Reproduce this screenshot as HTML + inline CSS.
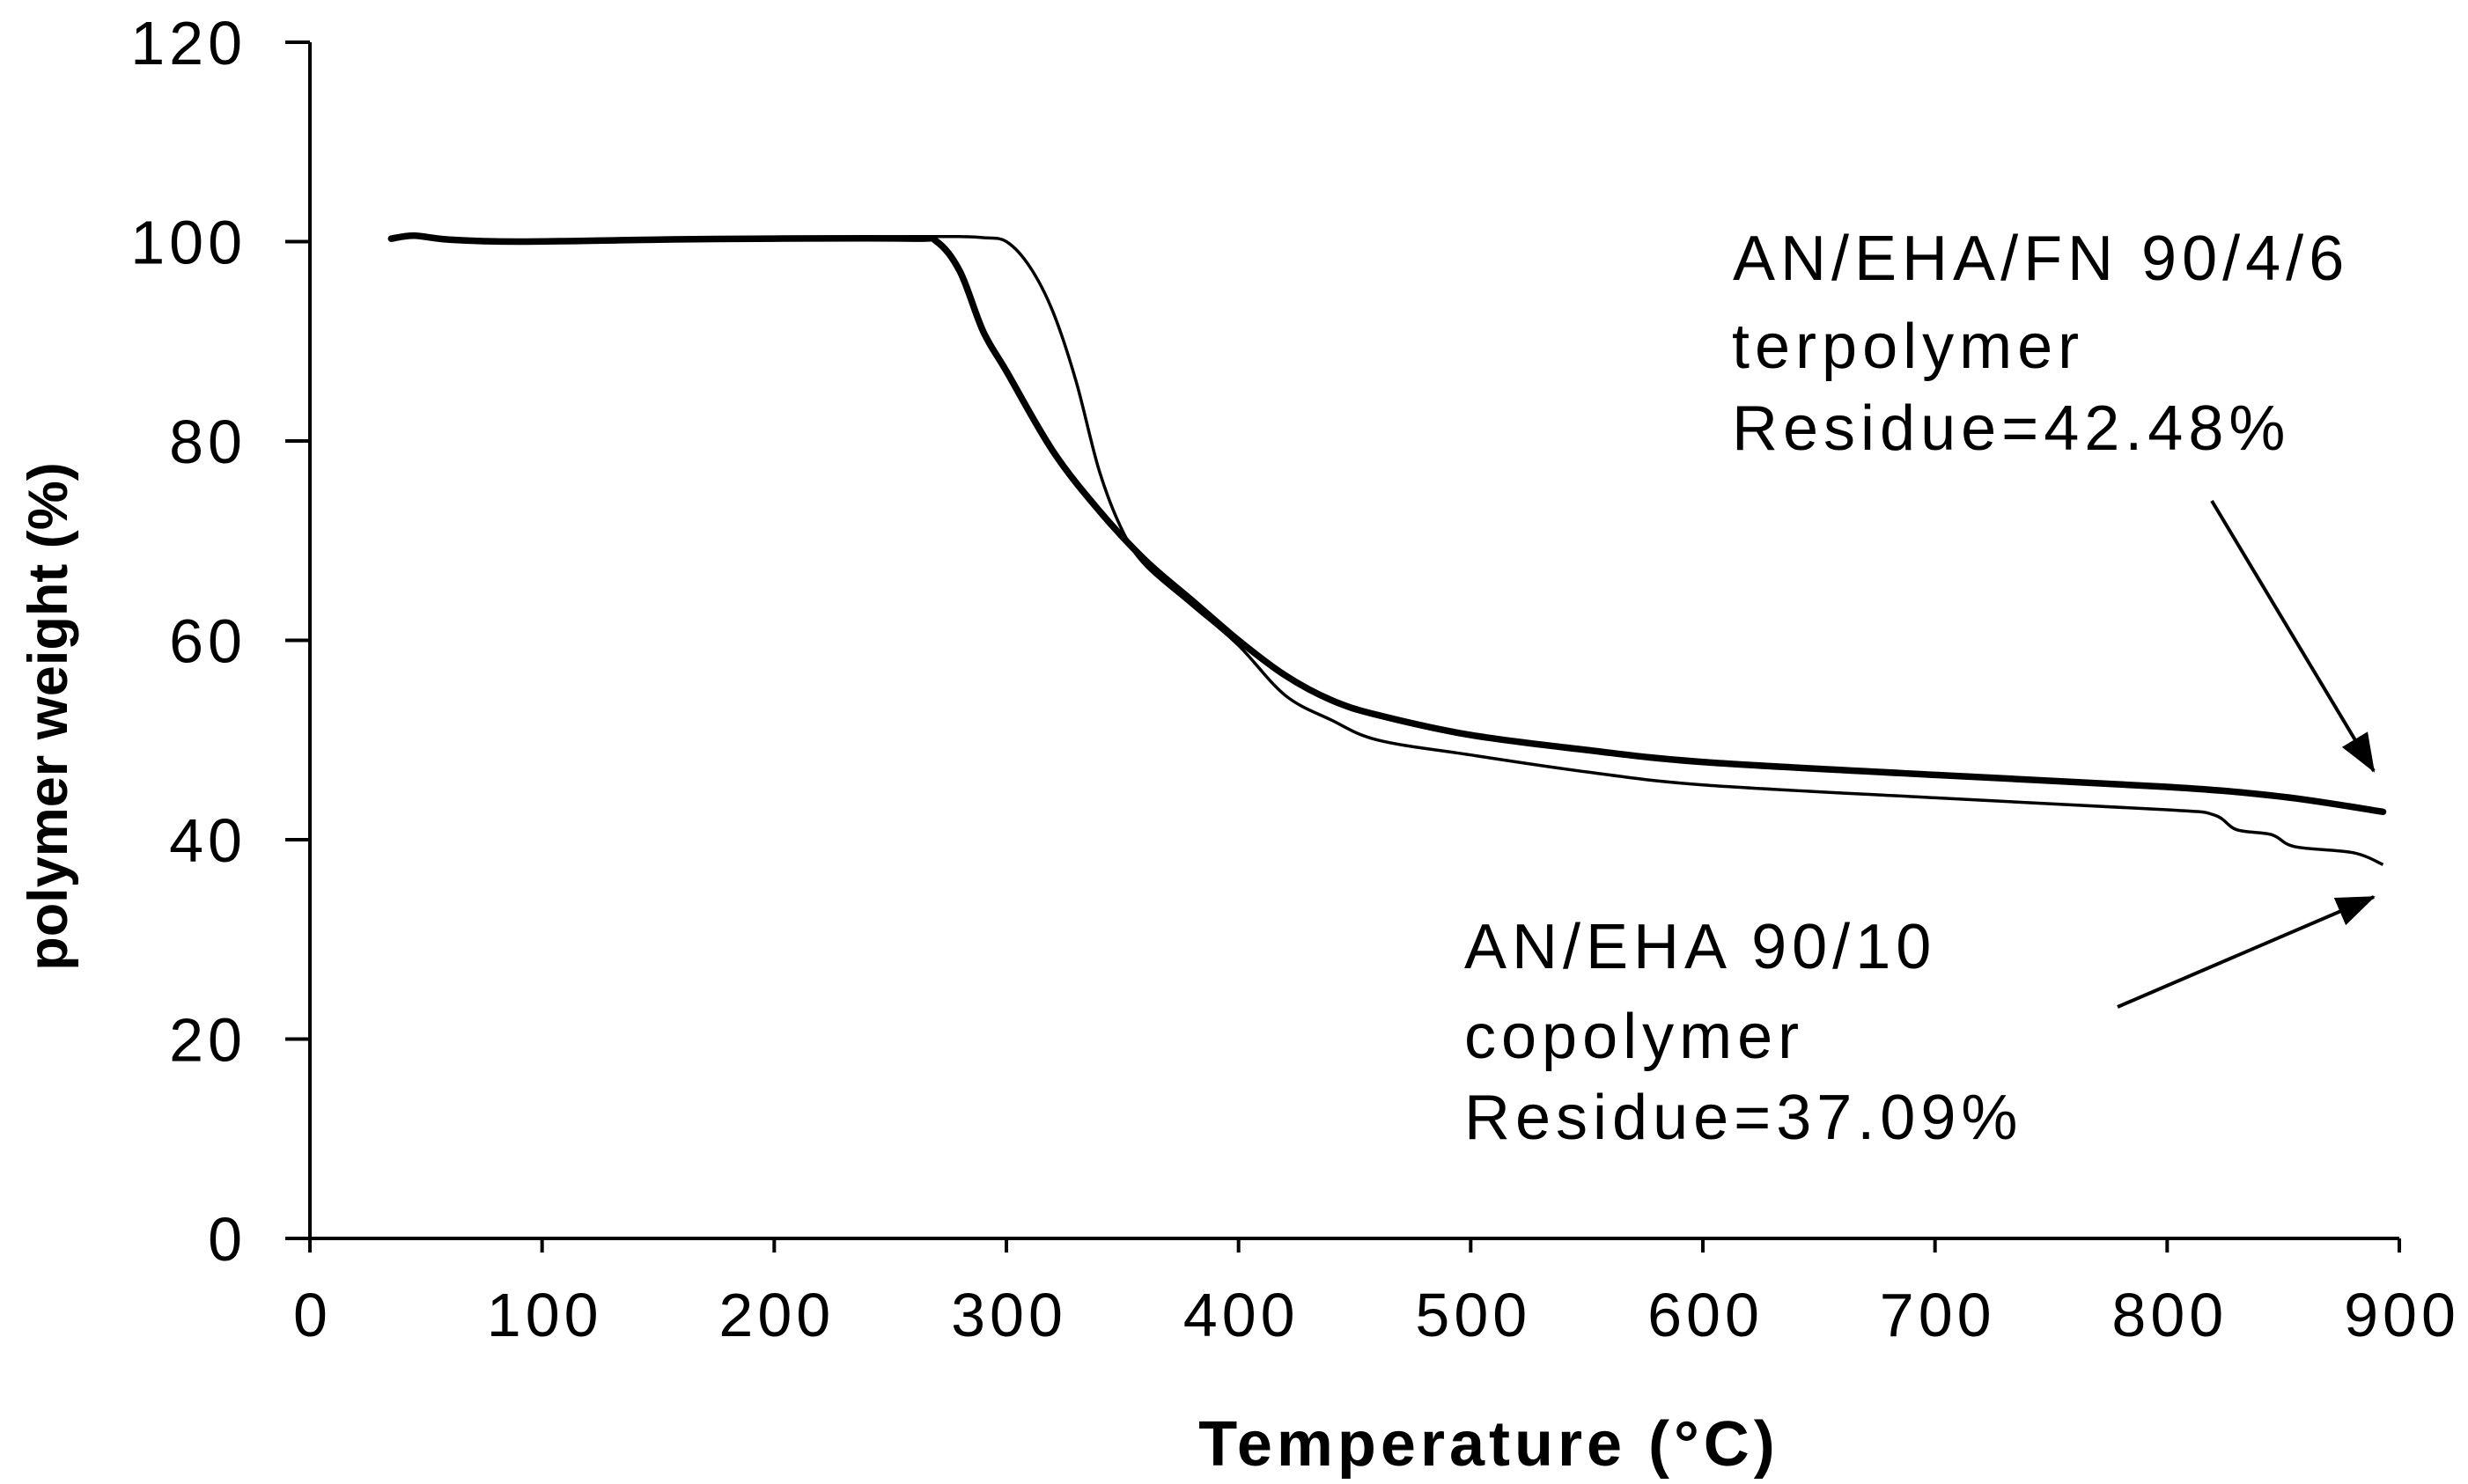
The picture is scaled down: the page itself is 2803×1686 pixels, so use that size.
<!DOCTYPE html>
<html><head><meta charset="utf-8"><style>
body{margin:0;background:#fff}
svg text{font-family:"Liberation Sans",Arial,sans-serif;fill:#000}
</style></head><body>
<svg id="chart" width="2803" height="1681" viewBox="0 0 2803 1681">
<defs><marker id="ah" markerWidth="44" markerHeight="34" refX="42" refY="17" orient="auto" markerUnits="userSpaceOnUse" viewBox="0 0 44 34"><path d="M0,0 L44,17 L0,34 z" fill="#000"/></marker></defs>
<g id="axes"></g>
<g id="series"></g>
<text x="1691" y="1665" font-size="72" font-weight="bold" letter-spacing="5" text-anchor="middle">Temperature (°C)</text>
<text transform="translate(76,814) rotate(-90)" font-size="63" font-weight="bold" text-anchor="middle">polymer weight (%)</text>
<g font-size="72" letter-spacing="6">
<text x="1968" y="318">AN/EHA/FN 90/4/6</text>
<text x="1967" y="418">terpolymer</text>
<text x="1967" y="511">Residue=42.48%</text>
</g>
<line x1="2512" y1="569" x2="2696" y2="876" stroke="#000" stroke-width="4" marker-end="url(#ah)"/>
<g font-size="72" letter-spacing="6">
<text x="1663" y="1100">AN/EHA 90/10</text>
<text x="1663" y="1202">copolymer</text>
<text x="1663" y="1294">Residue=37.09%</text>
</g>
<line x1="2405" y1="1144" x2="2696" y2="1019" stroke="#000" stroke-width="4" marker-end="url(#ah)"/>
</svg>
<script>
const xTicks=[0,100,200,300,400,500,600,700,800,900];
const yTicks=[0,20,40,60,80,100,120];
const terTemp=[35,45,60,90,150,200,260,270,280,290,300,320,340,360,380,400,420,440,460,500,550,600,700,800,850,893];
const terWeight=[100.3,100.6,100.2,100,100.2,100.3,100.3,100,97,91,87,79,73,68,64,60,56.5,54,52.5,50.5,49,47.8,46.5,45.3,44.3,42.8];
const coTemp=[35,45,60,90,150,200,260,280,290,300,310,320,330,340,350,360,380,400,420,440,460,500,550,600,700,800,820,830,845,855,880,893];
const coWeight=[100.3,100.6,100.2,100,100.2,100.4,100.5,100.5,100.4,100,97.5,93,86,77,71,67.5,63.5,59.5,54.5,52,50,48.5,46.8,45.5,44.2,43,42.5,41,40.5,39.3,38.7,37.5];
const NS='http://www.w3.org/2000/svg';
const X0=352,X1=2725,Y0=1407,Y1=48;
function sx(v){return X0+v/900*(X1-X0);}
function sy(v){return Y0-v/120*(Y0-Y1);}
function mk(tag,attrs,parent){const e=document.createElementNS(NS,tag);for(const k in attrs)e.setAttribute(k,attrs[k]);parent.appendChild(e);return e;}
const ax=document.getElementById('axes');
let l=mk('line',{x1:X0,y1:Y1,x2:X0,y2:Y0,stroke:'#000','stroke-width':4},ax);


l=mk('line',{x1:X0,y1:Y0,x2:X1,y2:Y0,stroke:'#000','stroke-width':4},ax);


yTicks.forEach(v=>{
  const t=mk('line',{x1:X0-28,y1:sy(v),x2:X0,y2:sy(v),stroke:'#000','stroke-width':4},ax);
  
  
  const tx=mk('text',{x:X0-72,y:sy(v)+25,'font-size':70,'letter-spacing':5,'text-anchor':'end'},ax);
  tx.textContent=v;
  
  
});
xTicks.forEach(v=>{
  const t=mk('line',{x1:sx(v),y1:Y0,x2:sx(v),y2:Y0+16,stroke:'#000','stroke-width':4},ax);
  
  
  const tx=mk('text',{x:sx(v)+3,y:1518,'font-size':70,'letter-spacing':5,'text-anchor':'middle'},ax);
  tx.textContent=v;
  
  
});
const sg=document.getElementById('series');
function path(xs,ys){
  const P=xs.map((x,i)=>[sx(x),sy(ys[i])]);
  let d='M'+P[0][0].toFixed(1)+','+P[0][1].toFixed(1);
  for(let i=0;i<P.length-1;i++){
    const p0=P[Math.max(0,i-1)],p1=P[i],p2=P[i+1],p3=P[Math.min(P.length-1,i+2)];
    const c1=[p1[0]+(p2[0]-p0[0])/6,p1[1]+(p2[1]-p0[1])/6];
    const c2=[p2[0]-(p3[0]-p1[0])/6,p2[1]-(p3[1]-p1[1])/6];
    d+=' C'+c1.map(n=>n.toFixed(1)).join(',')+' '+c2.map(n=>n.toFixed(1)).join(',')+' '+p2.map(n=>n.toFixed(1)).join(',');
  }
  return d;
}
let p=mk('path',{d:path(coTemp,coWeight),fill:'none',stroke:'#000','stroke-width':3.5,'stroke-linejoin':'round'},sg);


p=mk('path',{d:path(terTemp,terWeight),fill:'none',stroke:'#000','stroke-width':7.5,'stroke-linejoin':'round','stroke-linecap':'round'},sg);


</script>
</body></html>
